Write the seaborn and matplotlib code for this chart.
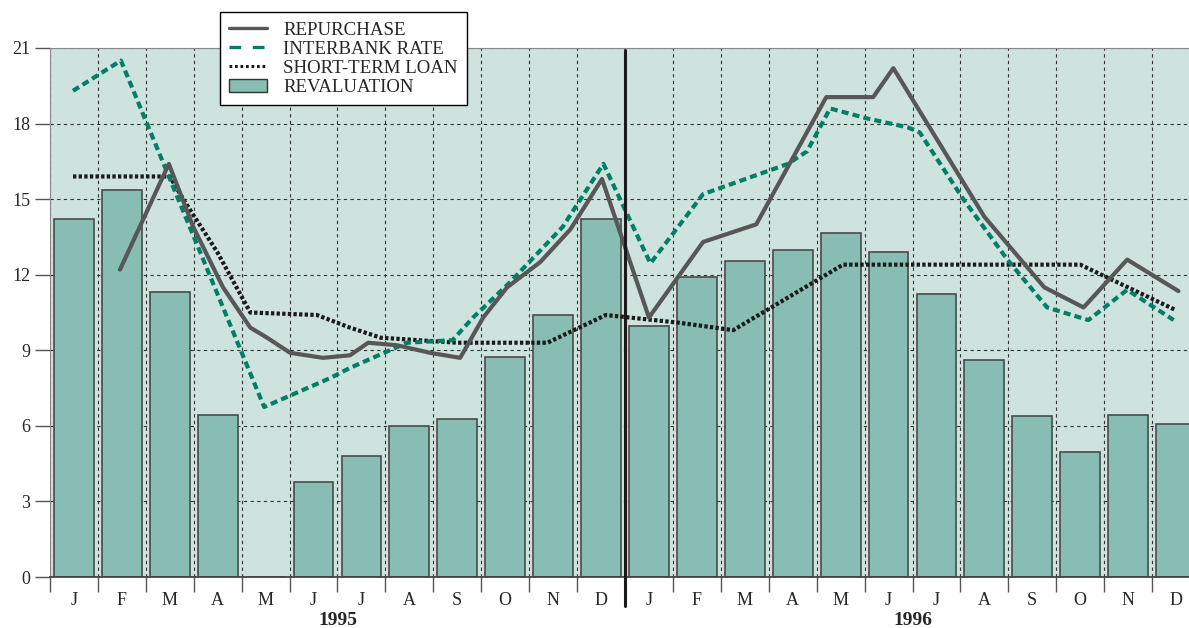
import matplotlib
matplotlib.use("Agg")
import matplotlib.pyplot as plt
import matplotlib.transforms as mtransforms
from matplotlib.lines import Line2D
from matplotlib.patches import Patch
import seaborn as sns

# Data (x = month index, 0 = Jan 1995)
months = ['J', 'F', 'M', 'A', 'M', 'J', 'J', 'A', 'S', 'O', 'N', 'D'] * 2
years = ['1995', '1996']

revaluation = [14.2, 15.35, 11.3, 6.43, 0, 3.77, 4.8, 6.0, 6.27, 8.73, 10.4, 14.2,
               9.96, 11.9, 12.55, 13.0, 13.65, 12.9, 11.25, 8.6, 6.39, 4.96, 6.43, 6.07]

repurchase_x = [0.96, 1.98, 2.49, 3.11, 3.68, 4.03, 4.51, 5.2, 5.76, 6.14, 6.74, 7.43,
                8.06, 8.54, 9.04, 9.73, 10.36, 11.02, 12.0, 13.13, 14.24, 15.7, 16.68,
                17.1, 19.0, 20.25, 21.07, 21.98, 23.05]
repurchase_y = [12.2, 16.4, 13.9, 11.5, 9.9, 9.5, 8.9, 8.7, 8.8, 9.3, 9.2, 8.9,
                8.7, 10.3, 11.5, 12.5, 13.8, 15.8, 10.3, 13.3, 14.0, 19.05, 19.05,
                20.2, 14.3, 11.5, 10.7, 12.6, 11.35]

interbank_x = [-0.02, 0.98, 3.97, 5.35, 5.76, 6.95, 7.9, 8.33, 9.1, 10.2, 11.05, 12.03,
               13.13, 14.9, 15.3, 15.78, 16.56, 17.4, 17.65, 18.56, 19.48, 20.31, 21.17,
               21.98, 22.95]
interbank_y = [19.3, 20.5, 6.75, 7.9, 8.3, 9.3, 9.4, 10.3, 11.7, 13.9, 16.4, 12.45,
               15.2, 16.4, 16.9, 18.6, 18.2, 17.85, 17.65, 15.0, 12.6, 10.7, 10.2,
               11.4, 10.2]

shortterm_x = [-0.02, 2.0, 2.28, 2.99, 3.68, 5.07, 5.76, 6.4, 8.0, 9.88, 11.1, 12.6,
               13.76, 16.05, 21.0, 22.99]
shortterm_y = [15.9, 15.9, 15.0, 12.9, 10.5, 10.4, 9.9, 9.5, 9.3, 9.3, 10.4, 10.1,
               9.8, 12.4, 12.4, 10.6]

BG = '#cee3dd'
BAR = '#87bdb2'
GREEN = '#007f66'
GRAY = '#575757'
DARK = '#1a1a1a'

sns.set_style("ticks")
plt.rcParams['font.family'] = ['Liberation Serif', 'DejaVu Serif']

fig = plt.figure(figsize=(11.89, 6.28), dpi=100)
ax = fig.add_axes([50 / 1189, 51 / 628, 1150 / 1189, 529 / 628])
ax.set_facecolor(BG)

sns.barplot(x=list(range(24)), y=revaluation, color=BAR, saturation=1,
            edgecolor='#4a4a4a', linewidth=1.2, width=0.83, ax=ax, zorder=2)

sns.lineplot(x=shortterm_x, y=shortterm_y, ax=ax, color=DARK, lw=3.0,
             linestyle=(0, (0.8, 0.55)), estimator=None, sort=False, zorder=3)
sns.lineplot(x=interbank_x, y=interbank_y, ax=ax, color=GREEN, lw=3.0,
             linestyle=(0, (1.7, 1.0)), estimator=None, sort=False, zorder=4)
sns.lineplot(x=repurchase_x, y=repurchase_y, ax=ax, color=GRAY, lw=3.0,
             estimator=None, sort=False, zorder=5)

ax.set_xlim(-0.5, 23.5)
ax.set_ylim(0, 21)

# month boundaries as major ticks (grid), letters as minor ticks
ax.set_xticks([i - 0.5 for i in range(25)])
ax.set_xticklabels([])
ax.set_xticks(list(range(24)), minor=True)
ax.set_xticklabels(months, minor=True, fontsize=13)
ax.tick_params(axis='x', which='major', length=11, width=1, color='#555555', direction='out')
ax.tick_params(axis='x', which='minor', length=0, pad=11)
ax.set_yticks(range(0, 22, 3))
ax.tick_params(axis='y', length=11, width=1, color='#555555', labelsize=13, pad=3)

ax.grid(True, which='major', linestyle=(0, (3, 3)), color='#333333', linewidth=0.8)
ax.set_axisbelow(True)
ax.set_xlabel('')
ax.set_ylabel('')

for side in ['top', 'left']:
    ax.spines[side].set_color('#888888')
ax.spines['bottom'].set_color('#444444')
ax.spines['bottom'].set_linewidth(1.3)
ax.spines['right'].set_visible(False)

# year divider and year labels
trans = mtransforms.blended_transform_factory(ax.transData, ax.transAxes)
ax.plot([11.5, 11.5], [0.996, -0.055], transform=trans, color=DARK, lw=2.2,
        clip_on=False, zorder=6)
for pos, yr in zip([5.5, 17.5], years):
    ax.text(pos, -0.082, yr, transform=trans, ha='center', va='center',
            fontsize=14, fontweight='bold')

handles = [
    Line2D([], [], color=GRAY, lw=2.4),
    Line2D([], [], color=GREEN, lw=2.4, linestyle=(0, (3.5, 3.5))),
    Line2D([], [], color=DARK, lw=2.2, linestyle=(0, (0.9, 0.9))),
    Patch(facecolor=BAR, edgecolor='#333333', linewidth=1),
]
labels = ['REPURCHASE', 'INTERBANK RATE', 'SHORT-TERM LOAN', 'REVALUATION']
leg = fig.legend(handles, labels, loc='upper left', bbox_to_anchor=(220 / 1189, 1 - 12 / 628),
                 bbox_transform=fig.transFigure, borderaxespad=0, fontsize=13.6,
                 frameon=True, fancybox=False, framealpha=1, edgecolor='black',
                 handlelength=2.0, handletextpad=0.85, labelspacing=0.1, borderpad=0.5)
leg.get_frame().set_linewidth(1)

fig.savefig('out.png', dpi=100)
